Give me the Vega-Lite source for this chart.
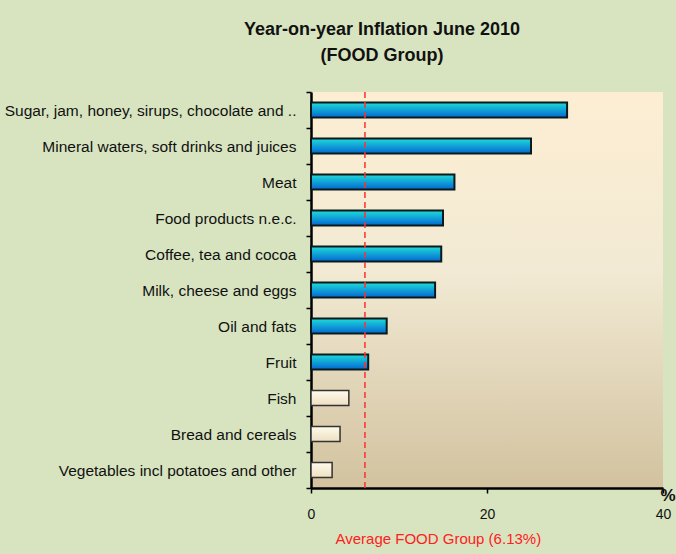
{
  "$schema": "https://vega.github.io/schema/vega-lite/v6.json",
  "autosize": "none",
  "width": 352,
  "height": 396,
  "padding": {"left": 311, "top": 92, "right": 13, "bottom": 66},
  "background": "#D8E4C0",
  "title": {
    "text": ["Year-on-year Inflation  June 2010", "(FOOD Group)"],
    "font": "Liberation Sans",
    "fontSize": 18,
    "fontWeight": "bold",
    "color": "#111111",
    "anchor": "middle",
    "frame": "group",
    "dx": -105,
    "baseline": "bottom",
    "lineHeight": 26,
    "offset": 2
  },
  "data": {
    "values": [
      {"category": "Sugar, jam, honey, sirups, chocolate and ..", "value": 29.1},
      {"category": "Mineral waters, soft drinks and juices", "value": 25.0},
      {"category": "Meat", "value": 16.3},
      {"category": "Food products n.e.c.", "value": 15.0},
      {"category": "Coffee, tea and cocoa", "value": 14.8},
      {"category": "Milk, cheese and eggs", "value": 14.1},
      {"category": "Oil and fats", "value": 8.6},
      {"category": "Fruit", "value": 6.5},
      {"category": "Fish", "value": 4.3},
      {"category": "Bread and cereals", "value": 3.3},
      {"category": "Vegetables incl potatoes and other", "value": 2.4}
    ]
  },
  "layer": [
    {
      "transform": [{"filter": "datum.value > 6.13"}],
      "mark": {
        "type": "bar",
        "size": 15,
        "stroke": "#0A1A1A",
        "strokeWidth": 2,
        "fill": {
          "gradient": "linear",
          "x1": 0, "y1": 0, "x2": 0, "y2": 1,
          "stops": [
            {"offset": 0, "color": "#1EDCDA"},
            {"offset": 1, "color": "#0466D2"}
          ]
        }
      },
      "encoding": {
        "y": {
          "field": "category",
          "type": "nominal",
          "sort": null,
          "scale": {"paddingInner": 0, "paddingOuter": 0},
          "axis": {
            "title": null,
            "domainColor": "#000000",
            "domainWidth": 2.5,
            "tickColor": "#000000",
            "tickWidth": 1.5,
            "tickSize": 5,
            "tickBand": "extent",
            "labelPadding": 10,
            "labelFont": "Liberation Sans",
            "labelFontSize": 15.5,
            "labelColor": "#111111",
            "labelLimit": 400
          }
        },
        "x": {
          "field": "value",
          "type": "quantitative",
          "scale": {"domain": [0, 40], "nice": false},
          "axis": {
            "values": [0, 20, 40],
            "grid": false,
            "domainColor": "#000000",
            "domainWidth": 2.5,
            "tickColor": "#000000",
            "tickWidth": 1.5,
            "tickSize": 5,
            "labelPadding": 14,
            "labelFont": "Liberation Sans",
            "labelFontSize": 14,
            "labelColor": "#111111",
            "labelFlush": false,
            "title": "Average FOOD Group (6.13%)",
            "titleColor": "#FF2020",
            "titleFont": "Liberation Sans",
            "titleFontSize": 15,
            "titleFontWeight": "normal",
            "titleAnchor": "start",
            "titleAlign": "left",
            "titleX": 24,
            "titleY": 55,
            "titleBaseline": "alphabetic"
          }
        }
      }
    },
    {
      "transform": [{"filter": "datum.value <= 6.13"}],
      "mark": {
        "type": "bar",
        "size": 15,
        "stroke": "#333333",
        "strokeWidth": 1.5,
        "fill": {
          "gradient": "linear",
          "x1": 0, "y1": 0, "x2": 0, "y2": 1,
          "stops": [
            {"offset": 0, "color": "#FFFBEC"},
            {"offset": 1, "color": "#EEDFC0"}
          ]
        }
      },
      "encoding": {
        "y": {"field": "category", "type": "nominal", "sort": null},
        "x": {"field": "value", "type": "quantitative"}
      }
    },
    {
      "data": {"values": [{"avg": 6.13}]},
      "mark": {"type": "rule", "color": "#FF3030", "strokeWidth": 1.5, "strokeDash": [6, 4]},
      "encoding": {
        "x": {"field": "avg", "type": "quantitative"}
      }
    },
    {
      "data": {"values": [{"label": "%", "value": 40, "category": "Vegetables incl potatoes and other"}]},
      "mark": {"type": "text", "font": "Liberation Sans", "fontSize": 17, "fontWeight": "bold", "color": "#111111", "align": "center", "baseline": "middle", "dx": 5, "dy": 8},
      "encoding": {
        "x": {"field": "value", "type": "quantitative"},
        "y": {"field": "category", "type": "nominal", "sort": null, "bandPosition": 1},
        "text": {"field": "label"}
      }
    }
  ],
  "config": {
    "view": {
      "stroke": null,
      "fill": {
        "gradient": "linear",
        "x1": 0, "y1": 0, "x2": 0, "y2": 1,
        "stops": [
          {"offset": 0, "color": "#FDEED3"},
          {"offset": 0.45, "color": "#F2EAD4"},
          {"offset": 1, "color": "#D2C29F"}
        ]
      }
    }
  }
}
